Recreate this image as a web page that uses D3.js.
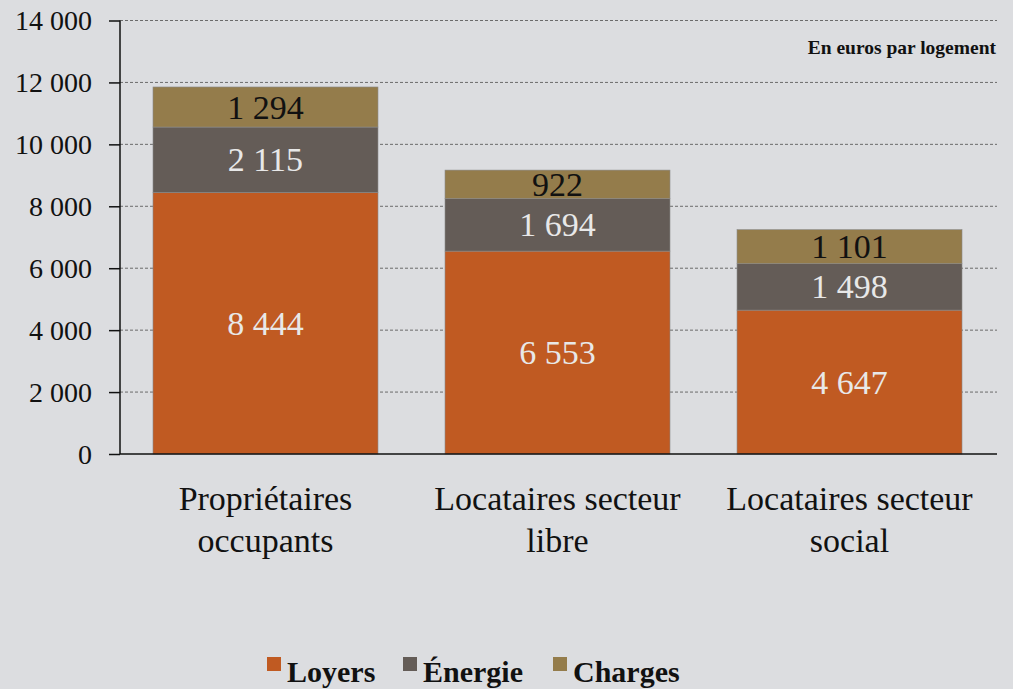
<!DOCTYPE html>
<html>
<head>
<meta charset="utf-8">
<script src="https://cdn.jsdelivr.net/npm/d3@7"></script>
<style>
  body { margin: 0; background: #dcdde0; }
  text { font-family: "Liberation Serif", "Times New Roman", serif; }
</style>
</head>
<body>
<div id="chart"></div>
<script>
// data
var categories = [["Propriétaires", "occupants"], ["Locataires secteur", "libre"], ["Locataires secteur", "social"]];
var series = ["Loyers", "Énergie", "Charges"];
var loyers = [8444, 6553, 4647];
var energie = [2115, 1694, 1498];
var charges = [1294, 922, 1101];
var yTicks = [0, 2000, 4000, 6000, 8000, 10000, 12000, 14000];
var colors = ["#c05a22", "#645c57", "#947c4b"];
var labelColors = ["#e8e8e8", "#e8e8e8", "#111111"];

var width = 1013, height = 689;
var margin = { top: 20.5, left: 120, right: 16, bottom: 235 };

var svg = d3.select('#chart').append('svg')
  .attr('width', width)
  .attr('height', height);

svg.append('rect').attr('width', width).attr('height', height).attr('fill', '#dcdde0');

var innerW = width - margin.left - margin.right;
var innerH = height - margin.top - margin.bottom;

var chart = svg.append('g')
  .attr('transform', `translate(${margin.left},${margin.top})`);

var keys = categories.map(function(d, i) { return i; });
var x = d3.scaleBand().domain(keys).range([0, 875]).paddingInner(0.2295).paddingOuter(0.113);
var y = d3.scaleLinear().domain([0, 14000]).range([innerH, 0]);

var fmt = function(v) { return d3.format(',')(v).replace(/,/g, ' '); };

// gridlines
chart.append('g')
  .selectAll('line')
  .data(yTicks.filter(function(d) { return d > 0; }))
  .enter().append('line')
  .attr('x1', 0).attr('x2', innerW)
  .attr('y1', function(d) { return y(d); })
  .attr('y2', function(d) { return y(d); })
  .attr('stroke', '#6b6b6b')
  .attr('stroke-width', 1)
  .attr('stroke-dasharray', '3,2');

// stacked data
var rows = keys.map(function(i) {
  return { cat: i, Loyers: loyers[i], "Énergie": energie[i], Charges: charges[i] };
});
var stacked = d3.stack().keys(series)(rows);

stacked.forEach(function(layer, li) {
  chart.append('g').selectAll('rect')
    .data(layer)
    .enter().append('rect')
    .attr('x', function(d) { return x(d.data.cat); })
    .attr('width', x.bandwidth())
    .attr('y', function(d) { return y(d[1]); })
    .attr('height', function(d) { return y(d[0]) - y(d[1]); })
    .attr('fill', colors[li])
    .attr('stroke', '#8a8a8a')
    .attr('stroke-width', 0.6);
});

// value labels
stacked.forEach(function(layer, li) {
  chart.append('g').selectAll('text')
    .data(layer)
    .enter().append('text')
    .attr('x', function(d) { return x(d.data.cat) + x.bandwidth() / 2; })
    .attr('y', function(d) { return (y(d[0]) + y(d[1])) / 2; })
    .attr('dy', '0.34em')
    .attr('text-anchor', 'middle')
    .attr('font-size', 34)
    .attr('fill', labelColors[li])
    .text(function(d) { return fmt(d[1] - d[0]); });
});

// axes
var yAxis = d3.axisLeft(y).tickValues(yTicks).tickSize(11).tickPadding(17).tickFormat(fmt);
var gy = chart.append('g').call(yAxis);
gy.attr('font-family', null);
gy.select('.domain').attr('stroke', '#111').attr('stroke-width', 1.5).attr('d', `M0,${innerH}V0`);
gy.selectAll('.tick line').attr('stroke', '#111').attr('stroke-width', 1.5);
gy.selectAll('.tick text').attr('font-size', 28).attr('fill', '#111').attr('dy', '0.33em');

chart.append('line')
  .attr('x1', 0).attr('x2', innerW)
  .attr('y1', innerH).attr('y2', innerH)
  .attr('stroke', '#111').attr('stroke-width', 1.5);

// category labels
var catG = chart.append('g').selectAll('text')
  .data(keys)
  .enter().append('text')
  .attr('text-anchor', 'middle')
  .attr('font-size', 34)
  .attr('fill', '#111')
  .attr('transform', function(d) { return `translate(${x(d) + x.bandwidth() / 2},${innerH + 56})`; });
catG.selectAll('tspan')
  .data(function(d) { return categories[d]; })
  .enter().append('tspan')
  .attr('x', 0)
  .attr('dy', function(d, i) { return i === 0 ? 0 : 42; })
  .text(function(d) { return d; });

// unit note
chart.append('text')
  .attr('x', innerW - 1)
  .attr('y', 33)
  .attr('text-anchor', 'end')
  .attr('font-size', 19.5)
  .attr('font-weight', 'bold')
  .attr('fill', '#111')
  .text('En euros par logement');

// legend
var legendX = [267, 403, 553];
var legend = svg.append('g').selectAll('g')
  .data(series)
  .enter().append('g')
  .attr('transform', function(d, i) { return `translate(${legendX[i]},657)`; });
legend.append('rect')
  .attr('width', 14).attr('height', 14)
  .attr('fill', function(d, i) { return colors[i]; });
legend.append('text')
  .attr('x', 20).attr('y', 25)
  .attr('font-size', 30)
  .attr('font-weight', 'bold')
  .attr('fill', '#111')
  .text(function(d) { return d; });
</script>
</body>
</html>
